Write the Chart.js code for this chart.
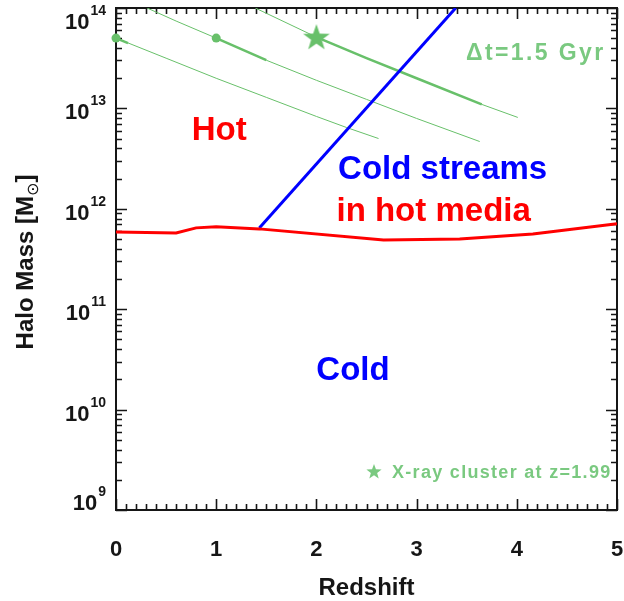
<!DOCTYPE html>
<html>
<head>
<meta charset="utf-8">
<script src="https://cdn.jsdelivr.net/npm/chart.js@4.4.1/dist/chart.umd.min.js"></script>
<style>
	html, body { margin: 0; padding: 0; background: #fff; }
	#wrap { width: 624px; height: 601px; }
</style>
</head>
<body>
<div id="wrap"><canvas id="haloChart"></canvas></div>
<script>
// critical halo mass for virial shock heating (log Msun vs redshift)
const SHOCK_Z = [0, 0.6, 0.8, 1.0, 1.43, 2.67, 3.43, 4.16, 5.0];
const SHOCK_LOGM = [11.77, 11.76, 11.81, 11.82, 11.80, 11.69, 11.70, 11.75, 11.85];

// upper limit for cold streams penetrating hot haloes
const STREAM_Z = [1.43, 3.39];
const STREAM_LOGM = [11.81, 14.0];

// mass growth tracks
const TRACK_A_Z = [0, 0.5, 1.0, 1.5, 2.0, 2.3, 2.62];
const TRACK_A_LOGM = [13.70, 13.50, 13.30, 13.11, 12.92, 12.81, 12.70];
const TRACK_B_Z = [0.31, 0.6, 1.0, 1.5, 2.0, 2.5, 3.0, 3.63];
const TRACK_B_LOGM = [14.0, 13.87, 13.70, 13.48, 13.28, 13.09, 12.90, 12.67];
const TRACK_C_Z = [1.39, 2.0, 2.5, 3.0, 3.65, 4.01];
const TRACK_C_LOGM = [14.0, 13.71, 13.50, 13.30, 13.04, 12.91];

// 1.5 Gyr stretch of each track
const STEP_A_Z = [0, 0.12];
const STEP_A_LOGM = [13.70, 13.65];
const STEP_B_Z = [1.0, 1.25, 1.5];
const STEP_B_LOGM = [13.70, 13.59, 13.48];
const STEP_C_Z = [2.0, 2.5, 3.0, 3.65];
const STEP_C_LOGM = [13.71, 13.50, 13.30, 13.04];

// present-day haloes and the z=1.99 cluster
const DOT_Z = [0, 1];
const DOT_LOGM = [13.70, 13.70];
const CLUSTER_Z = [2.0];
const CLUSTER_LOGM = [13.71];

const X_TICKS = [0, 1, 2, 3, 4, 5];
const Y_DECADES = [9, 10, 11, 12, 13, 14];

const RED = '#ff0000';
const BLUE = '#0000ff';
const GREEN = 'rgb(104,192,106)';
const GREEN_TEXT = 'rgb(122,201,128)';
const INK = '#161616';
const FONT = "'Liberation Sans', Arial, Helvetica, sans-serif";

function toPoints(zs, logs) {
	return zs.map((z, i) => ({x: z, y: Math.pow(10, logs[i])}));
}

function drawStar(ctx, cx, cy, R, r) {
	ctx.beginPath();
	for (let i = 0; i < 10; i++) {
		let a = -Math.PI / 2 + i * Math.PI / 5;
		let rad = (i % 2 == 0) ? R : r;
		let px = cx + rad * Math.cos(a);
		let py = cy + rad * Math.sin(a);
		if (i == 0) ctx.moveTo(px, py); else ctx.lineTo(px, py);
	}
	ctx.closePath();
	ctx.fill();
}

// filled star used as point style
const starImg = document.createElement('canvas');
starImg.width = 30;
starImg.height = 30;
(function() {
	let c = starImg.getContext('2d');
	c.fillStyle = GREEN;
	drawStar(c, 15, 16, 14, 5.6);
})();

function lineSet(zs, logs, color, width, order) {
	return {
		data: toPoints(zs, logs),
		borderColor: color,
		backgroundColor: color,
		borderWidth: width,
		pointRadius: 0,
		showLine: true,
		tension: 0,
		order: order,
	};
}

let datasets = [
	lineSet(SHOCK_Z, SHOCK_LOGM, RED, 3, 1),
	lineSet(STREAM_Z, STREAM_LOGM, BLUE, 3, 1),
	lineSet(TRACK_A_Z, TRACK_A_LOGM, GREEN, 1, 3),
	lineSet(TRACK_B_Z, TRACK_B_LOGM, GREEN, 1, 3),
	lineSet(TRACK_C_Z, TRACK_C_LOGM, GREEN, 1, 3),
	lineSet(STEP_A_Z, STEP_A_LOGM, GREEN, 2.5, 2),
	lineSet(STEP_B_Z, STEP_B_LOGM, GREEN, 2.5, 2),
	lineSet(STEP_C_Z, STEP_C_LOGM, GREEN, 2.5, 2),
	{
		data: toPoints(DOT_Z, DOT_LOGM),
		showLine: false,
		pointRadius: 4.5,
		pointBackgroundColor: GREEN,
		pointBorderWidth: 0,
		clip: false,
		order: 0,
	},
	{
		data: toPoints(CLUSTER_Z, CLUSTER_LOGM),
		showLine: false,
		pointStyle: starImg,
		clip: false,
		order: 0,
	},
];

// text placed in data coordinates: [text, z, logM, color, size, spacing]
const notes = [
	['Hot', 1.03, 12.69, RED, 33, 0],
	['Cold streams', 3.26, 12.295, BLUE, 33, 0],
	['in hot media', 3.17, 11.876, RED, 33, 0],
	['Cold', 2.365, 10.291, BLUE, 33, 0],
	['\u0394t=1.5 Gyr', 4.19, 13.48, GREEN_TEXT, 23, 2.4],
];

let axisFrame = {
	id: 'axisFrame',
	// box with inward ticks on all four sides, under the data
	beforeDatasetsDraw: (chart) => {
		const { ctx, chartArea: {top, right, bottom, left}, scales: {x, y} } = chart;
		ctx.save();
		ctx.strokeStyle = INK;
		ctx.lineWidth = 2;
		ctx.strokeRect(left, top, right - left, bottom - top);
		ctx.lineWidth = 1.6;
		ctx.beginPath();
		for (let i = 0; i <= 50; i++) {
			let px = Math.round(x.getPixelForValue(i / 10)) + 0.5;
			let len = (i % 10 == 0) ? 11 : 6;
			ctx.moveTo(px, bottom); ctx.lineTo(px, bottom - len);
			ctx.moveTo(px, top); ctx.lineTo(px, top + len);
		}
		for (const d of Y_DECADES) {
			for (let m = 1; m <= 9; m++) {
				if (d == 14 && m > 1) break;
				let py = Math.round(y.getPixelForValue(m * Math.pow(10, d))) + 0.5;
				let len = (m == 1) ? 11 : 6;
				ctx.moveTo(left, py); ctx.lineTo(left + len, py);
				ctx.moveTo(right, py); ctx.lineTo(right - len, py);
			}
		}
		ctx.stroke();
		ctx.restore();
	},
	afterDraw: (chart) => {
		const { ctx, chartArea: {top, right, bottom, left}, scales: {x, y} } = chart;
		ctx.save();

		// tick labels
		ctx.fillStyle = INK;
		ctx.font = 'bold 22px ' + FONT;
		ctx.textAlign = 'center';
		ctx.textBaseline = 'alphabetic';
		for (const v of X_TICKS) {
			ctx.fillText(String(v), x.getPixelForValue(v), bottom + 46);
		}
		ctx.textAlign = 'right';
		for (const d of Y_DECADES) {
			let py = y.getPixelForValue(Math.pow(10, d));
			let base = Math.min(Math.max(py + 11, top + 21), bottom);
			ctx.font = 'bold 14px ' + FONT;
			let supW = ctx.measureText(String(d)).width;
			ctx.fillText(String(d), left - 10, base - 14);
			ctx.font = 'bold 22px ' + FONT;
			ctx.fillText('10', left - 11 - supW, base);
		}

		// axis titles
		ctx.textAlign = 'center';
		ctx.font = 'bold 24px ' + FONT;
		ctx.fillText('Redshift', (left + right) / 2, bottom + 85);

		ctx.save();
		ctx.translate(33, (top + bottom) / 2 + 3);
		ctx.rotate(-Math.PI / 2);
		ctx.textAlign = 'left';
		let p1 = 'Halo Mass [M';
		ctx.font = 'bold 24px ' + FONT;
		let w1 = ctx.measureText(p1).width;
		ctx.font = '16px DejaVu Sans';
		let w2 = ctx.measureText('\u2299').width;
		ctx.font = 'bold 24px ' + FONT;
		let w3 = ctx.measureText(']').width;
		let x0 = -(w1 + w2 + w3) / 2;
		ctx.fillText(p1, x0, 0);
		ctx.font = '16px DejaVu Sans';
		ctx.fillText('\u2299', x0 + w1, 5);
		ctx.font = 'bold 24px ' + FONT;
		ctx.fillText(']', x0 + w1 + w2, 0);
		ctx.restore();

		// region labels
		ctx.textAlign = 'center';
		for (const [text, z, lm, color, size, sp] of notes) {
			ctx.font = 'bold ' + size + 'px ' + FONT;
			ctx.letterSpacing = sp + 'px';
			ctx.fillStyle = color;
			ctx.fillText(text, x.getPixelForValue(z), y.getPixelForValue(Math.pow(10, lm)));
		}

		// legend for the cluster symbol
		ctx.fillStyle = GREEN_TEXT;
		drawStar(ctx, right - 243, bottom - 38, 8, 3.3);
		ctx.textAlign = 'left';
		ctx.font = 'bold 18px ' + FONT;
		ctx.letterSpacing = '1.3px';
		ctx.fillText('X-ray cluster at z=1.99', right - 225, bottom - 32);

		ctx.restore();
	},
};

new Chart(document.getElementById('haloChart'), {
	type: 'scatter',
	data: { datasets: datasets },
	options: {
		responsive: true,
		maintainAspectRatio: false,
		animation: false,
		layout: {
			padding: { left: 116, right: 7, top: 8, bottom: 91 },
		},
		scales: {
			x: { type: 'linear', min: 0, max: 5, display: false },
			y: { type: 'logarithmic', min: 1e9, max: 1e14, display: false },
		},
		plugins: {
			legend: { display: false },
			tooltip: { enabled: false },
		},
	},
	plugins: [axisFrame],
});
</script>
</body>
</html>
